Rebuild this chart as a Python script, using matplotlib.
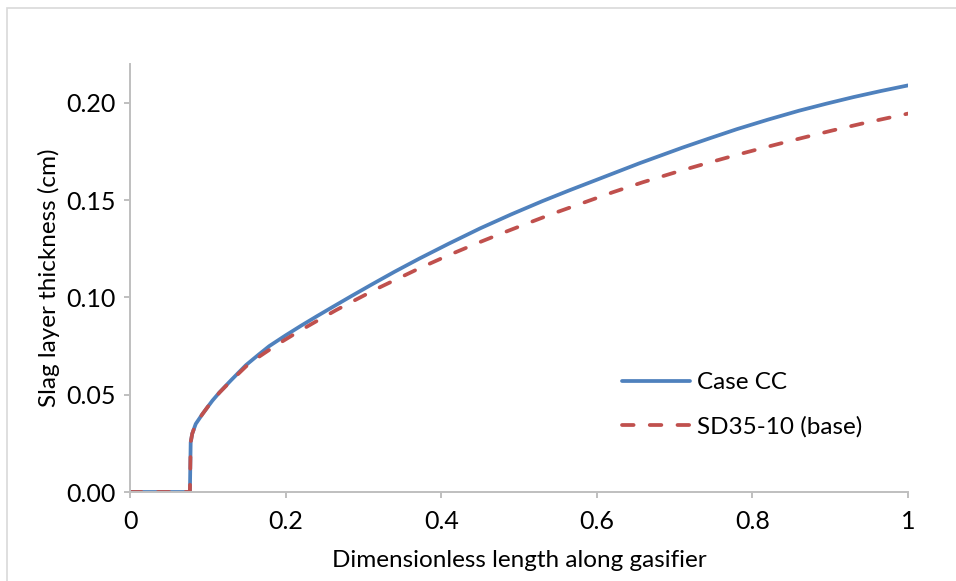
import matplotlib
matplotlib.use("Agg")
import matplotlib.pyplot as plt
from matplotlib.patches import Rectangle

plt.rcParams['font.family'] = ['Lato', 'DejaVu Sans']

# slag layer thickness along the gasifier (cm)
x_cc = [0, 0.077, 0.078, 0.080, 0.0845, 0.093, 0.100, 0.106, 0.115, 0.130,
        0.149, 0.165, 0.179, 0.20, 0.22, 0.24, 0.26, 0.285, 0.31, 0.34,
        0.372, 0.41, 0.45, 0.49, 0.53, 0.565, 0.60, 0.655, 0.71, 0.745,
        0.78, 0.82, 0.86, 0.895, 0.93, 0.965, 1.0]
y_cc = [0, 0, 0.0255, 0.030, 0.035, 0.040, 0.0438, 0.047, 0.0512, 0.0575,
        0.0652, 0.0705, 0.0750, 0.0805, 0.0855, 0.0903, 0.0950, 0.1008, 0.1065, 0.1132,
        0.1200, 0.1277, 0.1355, 0.1427, 0.1495, 0.1551, 0.1605, 0.1690, 0.1770, 0.1818,
        0.1865, 0.1914, 0.1960, 0.1996, 0.2030, 0.2061, 0.2090]

x_base = [0, 0.077, 0.078, 0.080, 0.0845, 0.093, 0.100, 0.106, 0.115, 0.130,
          0.149, 0.165, 0.19, 0.22, 0.245, 0.265, 0.2925, 0.32, 0.346, 0.372,
          0.41, 0.45, 0.48, 0.5135, 0.545, 0.578, 0.62, 0.659, 0.7066, 0.745,
          0.78, 0.815, 0.848, 0.875, 0.9035, 0.94, 0.97, 1.0]
y_base = [0, 0, 0.0255, 0.030, 0.035, 0.040, 0.0438, 0.047, 0.0511, 0.0572,
          0.0645, 0.0693, 0.0760, 0.0833, 0.0890, 0.0935, 0.0993, 0.1050, 0.1100, 0.1150,
          0.1218, 0.1285, 0.1333, 0.1385, 0.1433, 0.1480, 0.1540, 0.1592, 0.1650, 0.1694,
          0.1733, 0.1770, 0.1804, 0.1831, 0.1859, 0.1893, 0.1919, 0.1945]

labels = ['Case CC', 'SD35-10 (base)']
xticks = [0, 0.2, 0.4, 0.6, 0.8, 1.0]
xticklabels = ['0', '0.2', '0.4', '0.6', '0.8', '1']
yticks = [0, 0.05, 0.10, 0.15, 0.20]

W, H = 956, 581
fig = plt.figure(figsize=(W / 100, H / 100), dpi=100)
ax = fig.add_axes([130 / W, 1 - 492 / H, 778 / W, 428 / H])

# light outer chart border
fig.patches.append(Rectangle((7 / W, -0.1), 1.2, 1.1 - 8 / H, transform=fig.transFigure,
                             fill=False, edgecolor='#D9D9D9', lw=1.2))

ax.plot(x_cc, y_cc, color='#4F81BD', lw=2.7, label=labels[0],
        solid_capstyle='round', solid_joinstyle='round')
ax.plot(x_base, y_base, color='#C0504D', lw=2.7, label=labels[1],
        dashes=(3.1, 4.3), dash_capstyle='round')

ax.set_xlim(0, 1)
ax.set_ylim(0, 0.22)
ax.set_xticks(xticks)
ax.set_xticklabels(xticklabels)
ax.set_yticks(yticks)
ax.set_yticklabels([f'{v:.2f}' for v in yticks])

for s in ['top', 'right']:
    ax.spines[s].set_visible(False)
for s in ['left', 'bottom']:
    ax.spines[s].set_color('#BFBFBF')
    ax.spines[s].set_linewidth(1.4)

ax.tick_params(axis='both', colors='#BFBFBF', width=1.4, length=4, labelsize=18,
               labelcolor='#000000', direction='out')
ax.tick_params(axis='y', pad=6)
ax.tick_params(axis='x', pad=9)

ax.set_xlabel('Dimensionless length along gasifier', fontsize=17.5, color='#000000')
ax.set_ylabel('Slag layer thickness (cm)', fontsize=17.5, color='#000000')
ax.xaxis.set_label_coords(0.5, -0.136)
ax.yaxis.set_label_coords(-0.09, 0.5)

ax.legend(loc='center left', bbox_to_anchor=(0.632, 0.203), frameon=False,
          fontsize=17.5, handlelength=2.8, handletextpad=0.29, borderpad=0,
          borderaxespad=0, labelspacing=0.95)

fig.savefig('out.png', dpi=100)
